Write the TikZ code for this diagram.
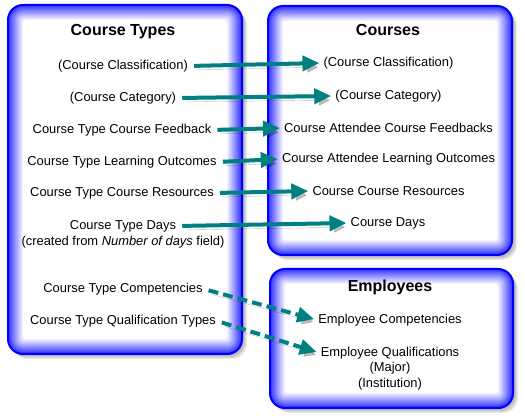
\documentclass[tikz,border=0pt]{standalone}
\usepackage{fontspec}
\setmainfont{Liberation Sans}
\usetikzlibrary{arrows.meta}
\definecolor{arrowteal}{RGB}{0,128,128}
\definecolor{boxblue}{RGB}{0,0,255}

\begin{document}
\begin{tikzpicture}[x = 1pt, y = -1pt,
    txt/.style  = {inner sep = 1pt, font = \fontsize{12.9}{14}\selectfont},
    ttl/.style  = {inner sep = 1pt, font = \fontsize{16}{18}\selectfont\bfseries},
    link/.style = {arrowteal, line width = 4pt, -{Triangle[length = 17pt, width = 15pt]},
                   shorten < = 5pt, shorten > = 3pt,
                   preaction = {draw = black, opacity = .25,
                                transform canvas = {shift = {(3pt, -4pt)}}}},
    dlink/.style = {link, dash pattern = on 10pt off 5pt}]
    \useasboundingbox (0, 0) rectangle (525, 419);

    % boxes: shadow, glow, border
    \foreach \xa/\ya/\xb/\yb in {8/5/242/354, 268/6/512/255, 270/269/513/408} {
      \foreach \s in {1, ..., 5}
        \fill [black, opacity = .08, rounded corners = 15pt]
          (\xa + \s, \ya + \s) rectangle (\xb + \s, \yb + \s);
      \foreach \k in {0, ..., 15} {
        \pgfmathtruncatemacro \m {max(80 - 5.3 * \k, 0)}
        \pgfmathsetmacro \r {max(15 - \k, 3)}
        \fill [boxblue!\m!white, rounded corners = \r pt]
          (\xa + \k, \ya + \k) rectangle (\xb - \k, \yb - \k);
      }
      \draw [boxblue, line width = 2pt, rounded corners = 15pt] (\xa, \ya) rectangle (\xb, \yb);
    }

    % Course Types
    \node (ct) at (123,  32) [ttl] {Course Types};
    \node (l1) at (123,  66) [txt] {(Course Classification)};
    \node (l2) at (123,  98) [txt] {(Course Category)};
    \node (l3) at (122, 130) [txt] {Course Type Course Feedback};
    \node (l4) at (122, 162) [txt] {Course Type Learning Outcomes};
    \node (l5) at (122, 193) [txt] {Course Type Course Resources};
    \node (l6) at (123, 226) [txt] {Course Type Days};
    \node (l6b) at (123, 242) [txt] {(created from \textit{Number of days} field)};
    \node (l7) at (123, 289) [txt] {Course Type Competencies};
    \node (l8) at (123, 321) [txt] {Course Type Qualification Types};

    % Courses
    \node (cs) at (388,  30) [ttl] {Courses};
    \node (r1) at (388.5,  63) [txt] {(Course Classification)};
    \node (r2) at (388.5,  96) [txt] {(Course Category)};
    \node (r3) at (388.5, 128) [txt] {Course Attendee Course Feedbacks};
    \node (r4) at (388.5, 159) [txt] {Course Attendee Learning Outcomes};
    \node (r5) at (388.5, 191) [txt] {Course Course Resources};
    \node (r6) at (388, 223) [txt] {Course Days};

    % Employees
    \node (em) at (390, 287) [ttl] {Employees};
    \node (e1) at (390, 320) [txt] {Employee Competencies};
    \node (e2) at (390, 353) [txt] {Employee Qualifications};
    \node (e2a) at (390, 368) [txt] {(Major)};
    \node (e2b) at (390, 384) [txt] {(Institution)};

    \draw [link] (l1.east)--(r1.west);
    \draw [link] (l2.east)--(r2.west);
    \draw [link] (l3.east)--(r3.west);
    \draw [link] (l4.east)--(r4.west);
    \draw [link] (l5.east)--(r5.west);
    \draw [link] (l6.east)--(r6.west);
    \draw [dlink] (l7.east)--(e1.west);
    \draw [dlink] (l8.east)--(e2.west);
  \end{tikzpicture}
\end{document}
